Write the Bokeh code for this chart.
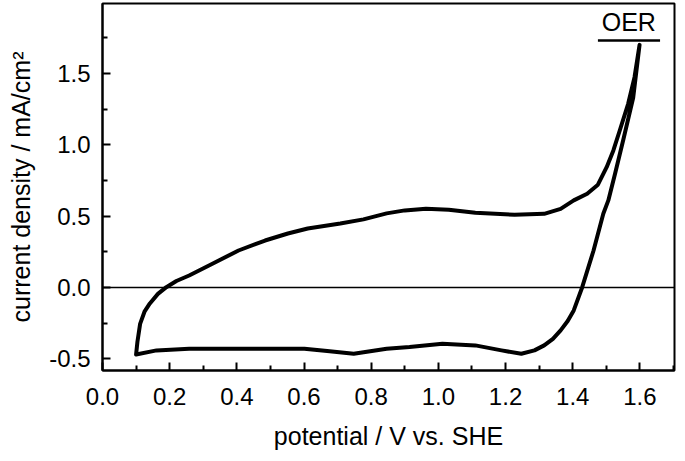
from bokeh.plotting import figure
from bokeh.models import FixedTicker, Span, Range1d, CustomJSTickFormatter
from bokeh.core.properties import value
from bokeh.embed import file_html
from bokeh.resources import INLINE

# anodic sweep (0.1 V -> 1.6 V)
anodic_x = [0.100, 0.104, 0.112, 0.125, 0.141, 0.165, 0.190, 0.220, 0.258, 0.317,
            0.405, 0.484, 0.552, 0.611, 0.708, 0.777, 0.846, 0.900, 0.963, 1.031,
            1.110, 1.227, 1.315, 1.364, 1.403, 1.443, 1.475, 1.501, 1.521, 1.540,
            1.565, 1.584, 1.599]
anodic_y = [-0.47, -0.38, -0.255, -0.17, -0.112, -0.045, 0.002, 0.045, 0.084, 0.154,
            0.259, 0.329, 0.378, 0.413, 0.448, 0.477, 0.519, 0.540, 0.551, 0.544,
            0.523, 0.509, 0.516, 0.551, 0.610, 0.657, 0.720, 0.843, 0.960, 1.100,
            1.287, 1.474, 1.700]

# cathodic sweep (1.6 V -> 0.1 V)
cathodic_x = [1.599, 1.580, 1.550, 1.526, 1.506, 1.491, 1.462, 1.428, 1.403, 1.385,
              1.364, 1.341, 1.315, 1.286, 1.247, 1.188, 1.110, 1.012, 0.914, 0.846,
              0.748, 0.669, 0.601, 0.454, 0.258, 0.161, 0.100]
cathodic_y = [1.700, 1.330, 1.030, 0.797, 0.610, 0.516, 0.259, 0.000, -0.161, -0.235,
              -0.301, -0.360, -0.406, -0.441, -0.465, -0.441, -0.406, -0.395, -0.418, -0.430,
              -0.465, -0.446, -0.430, -0.430, -0.430, -0.441, -0.470]

x_ticks = [0.0, 0.2, 0.4, 0.6, 0.8, 1.0, 1.2, 1.4, 1.6]
x_minor = [0.1, 0.3, 0.5, 0.7, 0.9, 1.1, 1.3, 1.5, 1.7]
y_ticks = [-0.5, 0.0, 0.5, 1.0, 1.5]
y_minor = [-0.25, 0.25, 0.75, 1.25, 1.75]

oer_text = ["OER"]
oer_x = [1.567]
oer_y = [1.857]
oer_line_x = [1.475, 1.66]
oer_line_y = [1.731, 1.731]

FONT = "Liberation Sans"

p = figure(width=677, height=453, output_backend="svg", toolbar_location=None,
           x_range=Range1d(0.0, 1.703), y_range=Range1d(-0.582, 1.99),
           min_border_left=102, min_border_right=3, min_border_top=3, min_border_bottom=83)

p.xgrid.visible = False
p.ygrid.visible = False
p.outline_line_color = "black"
p.outline_line_width = 2
p.background_fill_color = "white"
p.border_fill_color = "white"

p.add_layout(Span(location=0, dimension="width", line_color="black", line_width=1.5))

p.line(anodic_x + cathodic_x, anodic_y + cathodic_y, line_color="black", line_width=4,
       line_join="round", line_cap="round")

p.text(x=oer_x, y=oer_y, text=oer_text, text_font=value(FONT), text_font_size="25px",
       text_align="center", text_baseline="middle", text_color="black")
p.line(oer_line_x, oer_line_y, line_color="black", line_width=2.5)

fmt = CustomJSTickFormatter(code="return tick.toFixed(1);")

for ax, ticks, minor in ((p.xaxis[0], x_ticks, x_minor), (p.yaxis[0], y_ticks, y_minor)):
    ax.ticker = FixedTicker(ticks=ticks, minor_ticks=minor)
    ax.formatter = fmt
    ax.major_tick_in = 8
    ax.major_tick_out = 0
    ax.minor_tick_in = 5
    ax.minor_tick_out = 0
    ax.major_tick_line_width = 2
    ax.minor_tick_line_width = 2
    ax.axis_line_width = 2
    ax.axis_line_color = "black"
    ax.major_tick_line_color = "black"
    ax.minor_tick_line_color = "black"
    ax.major_label_text_font = FONT
    ax.major_label_text_font_size = "24px"
    ax.major_label_text_color = "black"
    ax.axis_label_text_font = FONT
    ax.axis_label_text_font_size = "25px"
    ax.axis_label_text_font_style = "normal"
    ax.axis_label_text_color = "black"

p.xaxis.axis_label = "potential / V vs. SHE"
p.yaxis.axis_label = "current density / mA/cm²"
p.xaxis.major_label_standoff = 17
p.yaxis.major_label_standoff = 12
p.xaxis.axis_label_standoff = 14
p.yaxis.axis_label_standoff = 11

open("out.html", "w").write(file_html(p, INLINE))
